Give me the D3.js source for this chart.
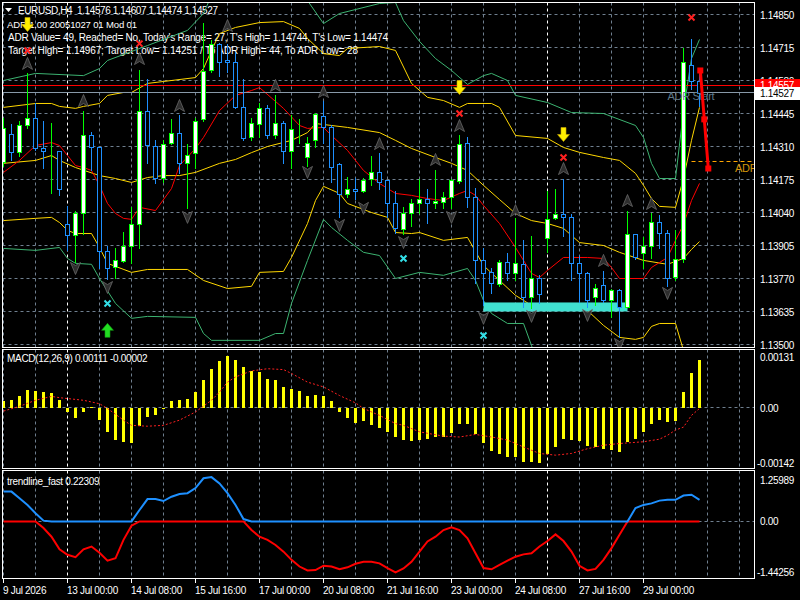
<!DOCTYPE html>
<html>
<head>
<meta charset="utf-8">
<script src="https://cdn.jsdelivr.net/npm/d3@7"></script>
<style>
body { margin: 0; background: #000; }
svg text { font-family: "Liberation Sans", Arial, sans-serif; font-size: 10px; fill: #fff; letter-spacing: -0.3px; }
svg text.hdr { letter-spacing: 0; }
</style>
</head>
<body>
<div id="chart"></div>
<script>
// EURUSD H4 candles, oldest first
var barOpen  = [1.14245,1.14363,1.14286,1.14400,1.14425,1.14302,1.14290,1.14290,1.13995,1.13950,
                1.14036,1.14355,1.14306,1.13881,1.13819,1.13840,1.13905,1.13991,1.14457,1.14314,
                1.14183,1.14326,1.14367,1.14241,1.14282,1.14421,1.14625,1.14731,1.14662,1.14654,
                1.14470,1.14347,1.14404,1.14466,1.14359,1.14408,1.14290,1.14380,1.14269,1.14335,
                1.14433,1.14388,1.14237,1.14114,1.14138,1.14130,1.14179,1.14204,1.14171,1.14077,
                1.13971,1.14036,1.14077,1.14097,1.14077,1.14085,1.14102,1.14167,1.14326,1.14102,
                1.13844,1.13795,1.13746,1.13836,1.13791,1.13828,1.13693,1.13774,1.13934,1.14016,
                1.14032,1.14020,1.13832,1.13791,1.13693,1.13742,1.13680,1.13721,1.13652,1.13954,
                1.13873,1.13905,1.14003,1.13958,1.13778,1.13848,1.14645,1.14576];
var barHigh  = [1.14425,1.14404,1.14416,1.14609,1.14486,1.14416,1.14408,1.14290,1.14065,1.14048,
                1.14457,1.14371,1.14306,1.13905,1.13893,1.13962,1.14061,1.14625,1.14588,1.14335,
                1.14335,1.14421,1.14437,1.14322,1.14425,1.14817,1.14744,1.14735,1.14731,1.14695,
                1.14588,1.14425,1.14486,1.14478,1.14519,1.14416,1.14437,1.14421,1.14347,1.14449,
                1.14498,1.14396,1.14241,1.14187,1.14183,1.14183,1.14273,1.14282,1.14175,1.14130,
                1.14061,1.14097,1.14179,1.14138,1.14212,1.14122,1.14179,1.14355,1.14347,1.14142,
                1.13893,1.13815,1.13844,1.13873,1.14016,1.13926,1.13942,1.13783,1.14130,1.14138,
                1.14179,1.14032,1.13864,1.13795,1.13746,1.13799,1.13729,1.13729,1.14048,1.13954,
                1.13938,1.14036,1.14028,1.13967,1.13967,1.14711,1.14748,1.14607];
var barLow   = [1.14232,1.14253,1.14273,1.14384,1.14294,1.14224,1.14118,1.14110,1.13885,1.13836,
                1.13954,1.14212,1.13811,1.13770,1.13774,1.13836,1.13832,1.13893,1.14241,1.14159,
                1.14163,1.14322,1.14200,1.14057,1.14224,1.14416,1.14613,1.14600,1.14613,1.14466,
                1.14335,1.14335,1.14347,1.14343,1.14343,1.14241,1.14224,1.14326,1.14232,1.14306,
                1.14326,1.14163,1.14020,1.14102,1.14097,1.14122,1.14151,1.14138,1.14020,1.13958,
                1.13954,1.13983,1.14036,1.13999,1.14057,1.14057,1.14057,1.14159,1.14061,1.13750,
                1.13660,1.13709,1.13738,1.13762,1.13762,1.13652,1.13648,1.13668,1.13877,1.14012,
                1.13942,1.13762,1.13672,1.13652,1.13660,1.13672,1.13611,1.13529,1.13652,1.13848,
                1.13811,1.13852,1.13893,1.13738,1.13762,1.13836,1.14547,1.14474];
var barClose = [1.14384,1.14286,1.14400,1.14425,1.14302,1.14290,1.14291,1.14138,1.13950,1.14036,
                1.14359,1.14306,1.13881,1.13815,1.13844,1.13901,1.13991,1.14457,1.14318,1.14183,
                1.14322,1.14367,1.14241,1.14277,1.14416,1.14617,1.14731,1.14654,1.14654,1.14470,
                1.14343,1.14408,1.14466,1.14359,1.14408,1.14290,1.14380,1.14381,1.14326,1.14441,
                1.14388,1.14228,1.14114,1.14138,1.14130,1.14175,1.14204,1.14163,1.14077,1.13975,
                1.14036,1.14077,1.14097,1.14077,1.14089,1.14102,1.14171,1.14322,1.14102,1.13844,
                1.13791,1.13750,1.13836,1.13791,1.13832,1.13693,1.13774,1.13705,1.14012,1.14032,
                1.14020,1.13832,1.13791,1.13680,1.13733,1.13680,1.13721,1.13652,1.13954,1.13856,
                1.13905,1.14003,1.13958,1.13774,1.13848,1.14654,1.14576,1.14527];

// envelope lines on the price chart, as [bar, price]
var outerUpper = [[0,1.14580],[4,1.14609],[10,1.14600],[12,1.14629],[13,1.14662],[18,1.14723],[23,1.14785],[25,1.14854],[26,1.14928],[30,1.14990],[37,1.14990],[38,1.14907],[40,1.14813],[42,1.14854],[47,1.14895],[49,1.14899],[50,1.14825],[52,1.14740],[54,1.14670],[56,1.14621],[58,1.14564],[60,1.14600],[61,1.14609],[63,1.14580],[64,1.14519],[68,1.14490],[71,1.14449],[75,1.14445],[79,1.14396],[80,1.14347],[81,1.14241],[82,1.14179],[84,1.14179],[85,1.14457],[86,1.14670],[87,1.14748]];
var innerUpper = [[0,1.14470],[4,1.14486],[6,1.14486],[7,1.14474],[9,1.14466],[10,1.14474],[12,1.14486],[13,1.14519],[15,1.14531],[16,1.14531],[18,1.14568],[20,1.14576],[24,1.14592],[25,1.14629],[26,1.14703],[27,1.14772],[29,1.14797],[32,1.14817],[35,1.14821],[37,1.14793],[38,1.14752],[40,1.14690],[42,1.14682],[43,1.14711],[47,1.14719],[49,1.14703],[51,1.14568],[53,1.14511],[55,1.14498],[57,1.14470],[58,1.14486],[61,1.14486],[62,1.14470],[64,1.14355],[68,1.14343],[70,1.14306],[72,1.14286],[75,1.14265],[77,1.14253],[79,1.14200],[80,1.14151],[81,1.14097],[82,1.14065],[84,1.14061],[85,1.14179],[86,1.14335],[87,1.14470]];
var fastMid    = [[0,1.14204],[2,1.14253],[4,1.14314],[6,1.14326],[7,1.14314],[8,1.14273],[9,1.14232],[10,1.14224],[11,1.14212],[12,1.14151],[13,1.14077],[14,1.14036],[15,1.14016],[16,1.14012],[17,1.14061],[19,1.14048],[21,1.14138],[22,1.14232],[24,1.14302],[25,1.14347],[27,1.14457],[29,1.14519],[31,1.14539],[32,1.14551],[35,1.14466],[37,1.14396],[38,1.14384],[40,1.14388],[41,1.14355],[43,1.14294],[45,1.14212],[47,1.14159],[49,1.14118],[51,1.14110],[53,1.14097],[55,1.14089],[57,1.14118],[58,1.14130],[59,1.14110],[60,1.14069],[62,1.13995],[64,1.13897],[66,1.13791],[67,1.13774],[68,1.13803],[70,1.13856],[73,1.13856],[75,1.13852],[76,1.13815],[77,1.13770],[80,1.13770],[81,1.13815],[83,1.13856],[84,1.13926],[85,1.13991],[86,1.14089],[87,1.14159]];
var slowMid    = [[0,1.14241],[4,1.14253],[6,1.14273],[7,1.14253],[9,1.14224],[12,1.14191],[14,1.14179],[16,1.14163],[18,1.14183],[20,1.14191],[22,1.14191],[24,1.14204],[27,1.14241],[29,1.14257],[31,1.14285],[33,1.14310],[36,1.14335],[38,1.14367],[39,1.14404],[43,1.14388],[47,1.14367],[49,1.14335],[51,1.14302],[54,1.14265],[56,1.14241],[58,1.14212],[60,1.14151],[62,1.14093],[64,1.14036],[66,1.14007],[68,1.13995],[70,1.13975],[72,1.13917],[75,1.13905],[77,1.13877],[80,1.13844],[83,1.13828],[85,1.13852],[86,1.13889],[87,1.13921]];
var innerLower = [[0,1.14007],[4,1.14016],[6,1.14020],[7,1.13999],[8,1.13967],[9,1.13954],[11,1.13954],[12,1.13897],[13,1.13832],[16,1.13795],[18,1.13807],[23,1.13807],[25,1.13762],[28,1.13729],[31,1.13738],[32,1.13795],[35,1.13799],[36,1.13856],[38,1.13995],[39,1.14089],[40,1.14147],[42,1.14118],[43,1.14077],[46,1.14040],[48,1.14020],[49,1.13958],[51,1.13954],[52,1.13958],[55,1.13926],[58,1.13938],[60,1.13823],[62,1.13762],[64,1.13701],[66,1.13660],[68,1.13639],[71,1.13652],[73,1.13639],[75,1.13578],[77,1.13529],[79,1.13521],[80,1.13529],[81,1.13574],[82,1.13586],[84,1.13586],[85,1.13476],[86,1.13380],[87,1.13300]];
var outerLower = [[0,1.13893],[4,1.13885],[7,1.13897],[8,1.13852],[9,1.13832],[11,1.13828],[12,1.13770],[14,1.13668],[16,1.13607],[18,1.13615],[24,1.13611],[25,1.13545],[26,1.13517],[32,1.13517],[34,1.13545],[35,1.13545],[36,1.13668],[38,1.13844],[40,1.14012],[41,1.13979],[43,1.13926],[45,1.13877],[47,1.13864],[49,1.13770],[52,1.13795],[55,1.13783],[58,1.13811],[59,1.13762],[60,1.13680],[61,1.13627],[63,1.13586],[65,1.13586],[66,1.13496],[67,1.13400],[70,1.13300],[87,1.13250]];

// fractal chevrons
var fractalUpBars    = [3, 10, 17, 22, 28, 34, 40, 47, 54, 57, 64, 70, 75, 78, 81];
var fractalUpPrice   = [1.14650,1.14498,1.14670,1.14478,1.14805,1.14560,1.14535,1.14322,1.14257,1.14396,1.14048,1.14220,1.13844,1.14089,1.14077];
var fractalDownBars  = [9, 13, 23, 38, 42, 45, 50, 56, 60, 66, 73, 77, 83];
var fractalDownPrice = [1.13811,1.13733,1.14020,1.14204,1.13987,1.14057,1.13917,1.14020,1.13607,1.13615,1.13619,1.13500,1.13709];

// signal markers
var sellArrowBars = [3, 57, 70];
var sellArrowPrice = [1.14809, 1.14551, 1.14359];
var buyArrowBars = [13];
var buyArrowPrice = [1.13558];
var redCrossBars = [3, 17, 57, 70, 86];
var redCrossPrice = [1.14703, 1.14731, 1.14445, 1.14265, 1.14838];
var cyanCrossBars = [13, 50, 60];
var cyanCrossPrice = [1.13668, 1.13852, 1.13537];
var zoneBars = [60, 78];
var zonePrice = [1.13672, 1.13635];

// ADR objects
var askPrice = 1.14557;
var bidPrice = 1.14527;
var adrTargetLow = 1.14251;
var adrStartBar = 83;
var projBars = [87.1, 87.6, 88.1];
var projPrice = [1.14621, 1.14421, 1.14220];

// header lines
var headerLines = ["EURUSD,H4\u00a0\u00a01.14576 1.14607 1.14474 1.14527",
                   "ADR 1.00 20051027 01 Mod 01",
                   "ADR Value= 49, Reached= No, Today's Range= 27, T's High= 1.14744, T's Low= 1.14474",
                   "Target High= 1.14967; Target Low= 1.14251 / To ADR High= 44, To ADR Low= 28"];

// MACD(12,26,9)
var macdHist = [0.00015,0.00017,0.00028,0.00040,0.00038,0.00035,0.00033,0.00017,-0.00010,-0.00024,
                -0.00010,0.00001,-0.00029,-0.00056,-0.00074,-0.00079,-0.00082,-0.00043,-0.00021,-0.00018,
                -0.00001,0.00015,0.00017,0.00021,0.00035,0.00065,0.00090,0.00107,0.00119,0.00111,
                0.00095,0.00085,0.00082,0.00067,0.00063,0.00047,0.00042,0.00038,0.00028,0.00030,
                0.00028,0.00015,-0.00010,-0.00024,-0.00035,-0.00032,-0.00041,-0.00047,-0.00056,-0.00069,
                -0.00075,-0.00077,-0.00074,-0.00072,-0.00068,-0.00068,-0.00058,-0.00039,-0.00039,-0.00060,
                -0.00082,-0.00100,-0.00108,-0.00114,-0.00114,-0.00125,-0.00125,-0.00129,-0.00108,-0.00091,
                -0.00073,-0.00075,-0.00077,-0.00089,-0.00091,-0.00096,-0.00099,-0.00102,-0.00079,-0.00072,
                -0.00056,-0.00037,-0.00029,-0.00033,-0.00032,0.00035,0.00081,0.00111];
var macdSignal = [[0,-0.00008],[2,0.00003],[4,0.00017],[6,0.00026],[7,0.00023],[10,0.00017],[12,0.00009],[13,-0.00002],[15,-0.00029],[16,-0.00041],[18,-0.00043],[20,-0.00041],[22,-0.00029],[24,-0.00010],[26,0.00017],[27,0.00036],[28,0.00059],[29,0.00071],[31,0.00085],[33,0.00090],[35,0.00088],[36,0.00079],[38,0.00059],[40,0.00048],[42,0.00028],[44,0.00011],[45,-0.00002],[47,-0.00018],[49,-0.00037],[50,-0.00041],[52,-0.00056],[55,-0.00066],[57,-0.00068],[59,-0.00062],[61,-0.00068],[63,-0.00075],[65,-0.00091],[67,-0.00106],[69,-0.00110],[71,-0.00106],[73,-0.00095],[75,-0.00087],[77,-0.00083],[80,-0.00079],[82,-0.00073],[83,-0.00064],[84,-0.00052],[85,-0.00045],[86,-0.00018],[87,-0.00002]];

// trendline_fast: up part (blue) and down part (red)
var trendUp   = [0.76,0.76,0.59,0.42,0.21,0.02,0,0,0,0, 0,0,0,0,0,0,0,0.29,0.57,0.57,
                 0.52,0.63,0.70,0.72,0.85,1.10,1.13,0.97,0.72,0.42, 0.06,0,0,0,0,0,0,0,0,0,
                 0,0,0,0,0,0,0,0,0,0, 0,0,0,0,0,0,0,0,0,0,
                 0,0,0,0,0,0,0,0,0,0, 0,0,0,0,0,0,0,0,0,0.34,
                 0.42,0.46,0.53,0.55,0.55,0.66,0.68,0.55];
var trendDown = [0,0,0,0,0,-0.17,-0.39,-0.71,-0.85,-0.91, -0.71,-0.64,-0.80,-1.00,-0.94,-0.47,-0.11,0,0,0,
                 0,0,0,0,0,0,0,0,0,0, 0,-0.22,-0.39,-0.47,-0.60,-0.77,-0.98,-1.15,-1.25,-1.24,
                 -1.13,-1.15,-1.22,-1.17,-1.08,-1.03,-1.03,-1.07,-1.19,-1.30, -1.20,-1.03,-0.77,-0.51,-0.39,-0.22,-0.15,-0.22,-0.43,-0.81,
                 -1.19,-1.22,-1.11,-1.00,-0.90,-0.84,-0.81,-0.64,-0.50,-0.33, -0.50,-0.77,-1.13,-1.25,-1.21,-0.98,-0.68,-0.34,0,0,
                 0,0,0,0,0,0,0,0];

// axes
var priceTicks = [1.14850,1.14715,1.14580,1.14445,1.14310,1.14175,1.14040,1.13905,1.13770,1.13635,1.13500];
var timeLabels = ["9 Jul 2026","13 Jul 00:00","14 Jul 08:00","15 Jul 16:00","17 Jul 00:00","20 Jul 08:00","21 Jul 16:00","23 Jul 00:00","24 Jul 08:00","27 Jul 16:00","29 Jul 00:00"];
var timeLabelBars = [0, 8, 16, 24, 32, 40, 48, 56, 64, 72, 80];
var weekStartBars = [8, 38, 68];
var macdTicks = [0.00131, 0, -0.00142];
var macdTickText = ["0.00131", "0.00", "-0.00142"];
var trendTicks = [1.25989, 0, -1.44256];
var trendTickText = ["1.25989", "0.00", "-1.44256"];

//////////////////////
// scales and layout
//////////////////////
var plotL = 2.5, plotR = 754.5;
var panels = [{top: 2.5, bottom: 347.5}, {top: 349.5, bottom: 468.5}, {top: 470.5, bottom: 578.5}];

var xBar = d3.scaleLinear().domain([0, 87]).range([3.5, 699.5]);
var yPrice = d3.scaleLinear().domain([1.13500, 1.14850]).range([344.5, 14.5]);
var yMacd = d3.scaleLinear().domain([-0.00142, 0.00131]).range([469, 351]);
var yTrend = d3.scaleLinear().domain([-1.44256, 1.25989]).range([578, 472]);

var svg = d3.select("#chart").append("svg").attr("width", 800).attr("height", 600)
    .style("background", "#000").style("display", "block");

var defs = svg.append("defs");
panels.forEach(function(p, i) {
    defs.append("clipPath").attr("id", "clip" + i).append("rect")
        .attr("x", plotL + 0.5).attr("y", p.top + 0.5)
        .attr("width", plotR - plotL - 1).attr("height", p.bottom - p.top - 1);
});

var gridColor = "#6f7f8f";
var gridBars = d3.range(0, 93, 4);

// vertical grid in every panel, week separators brighter
panels.forEach(function(p) {
    svg.append("g").selectAll("line").data(gridBars).enter().append("line")
        .attr("x1", function(d) { return 3.5 + 8 * d; }).attr("x2", function(d) { return 3.5 + 8 * d; })
        .attr("y1", p.top).attr("y2", p.bottom)
        .attr("stroke", function(d) { return weekStartBars.indexOf(d) >= 0 ? "#ffffff" : gridColor; })
        .attr("stroke-dasharray", "3,3");
});
// horizontal grid
svg.append("g").selectAll("line").data(priceTicks).enter().append("line")
    .attr("x1", plotL).attr("x2", plotR)
    .attr("y1", function(d) { return Math.round(yPrice(d) - 0.5) + 0.5; })
    .attr("y2", function(d) { return Math.round(yPrice(d) - 0.5) + 0.5; })
    .attr("stroke", gridColor).attr("stroke-dasharray", "3,3");
[[yMacd, 0], [yTrend, 0]].forEach(function(z) {
    var y = Math.round(z[0](z[1]) - 0.5) + 0.5;
    svg.append("line").attr("x1", plotL).attr("x2", plotR).attr("y1", y).attr("y2", y)
        .attr("stroke", gridColor).attr("stroke-dasharray", "3,3");
});

//////////////////////
// header texts (drawn under the chart objects, as in the terminal)
//////////////////////
var hdrX = [18, 7, 8, 8], hdrY = [14, 28, 41, 54], hdrW = [200, 130, 380, 350], hdrSize = [10, 9.5, 10, 10];
svg.append("path").attr("d", "M5,8 L12,8 L8.5,12 Z").attr("fill", "#fff");
headerLines.forEach(function(t, i) {
    svg.append("text").attr("class", "hdr").attr("x", hdrX[i]).attr("y", hdrY[i])
        .style("font-size", hdrSize[i] + "px")
        .attr("textLength", hdrW[i]).attr("lengthAdjust", "spacing").text(t);
});

//////////////////////
// price panel
//////////////////////
var main = svg.append("g").attr("clip-path", "url(#clip0)");

var priceLine = d3.line().x(function(d) { return xBar(d[0]); }).y(function(d) { return yPrice(d[1]); });
main.append("path").datum(outerUpper).attr("d", priceLine).attr("fill", "none").attr("stroke", "#3cb371");
main.append("path").datum(outerLower).attr("d", priceLine).attr("fill", "none").attr("stroke", "#3cb371");
main.append("path").datum(innerUpper).attr("d", priceLine).attr("fill", "none").attr("stroke", "#ffd700");
main.append("path").datum(innerLower).attr("d", priceLine).attr("fill", "none").attr("stroke", "#ffd700");
main.append("path").datum(slowMid).attr("d", priceLine).attr("fill", "none").attr("stroke", "#ffd700");
main.append("path").datum(fastMid).attr("d", priceLine).attr("fill", "none").attr("stroke", "#ff0000");

// support zone
main.append("rect").attr("x", xBar(zoneBars[0])).attr("y", yPrice(zonePrice[0]))
    .attr("width", xBar(zoneBars[1]) - xBar(zoneBars[0])).attr("height", yPrice(zonePrice[1]) - yPrice(zonePrice[0]))
    .attr("fill", "#40e0d0");

// ask / bid lines
main.append("line").attr("x1", plotL).attr("x2", plotR)
    .attr("y1", Math.round(yPrice(askPrice)) - 0.5).attr("y2", Math.round(yPrice(askPrice)) - 0.5).attr("stroke", "#ff0000");
main.append("line").attr("x1", plotL).attr("x2", plotR)
    .attr("y1", Math.round(yPrice(bidPrice)) - 0.5).attr("y2", Math.round(yPrice(bidPrice)) - 0.5).attr("stroke", "#8899a8");

// candles
var candles = main.append("g");
for (let i = 0; i < barOpen.length; i++) {
    var x = xBar(i);
    var up = barClose[i] >= barOpen[i];
    var col = up ? "#00ff00" : "#1e90ff";
    candles.append("line").attr("x1", x).attr("x2", x)
        .attr("y1", Math.round(yPrice(barHigh[i]))).attr("y2", Math.round(yPrice(barLow[i])) + 1)
        .attr("stroke", col);
    var yT = Math.round(yPrice(Math.max(barOpen[i], barClose[i])));
    var yB = Math.round(yPrice(Math.min(barOpen[i], barClose[i])));
    candles.append("rect").attr("x", x - 2).attr("y", yT + 0.5).attr("width", 4).attr("height", Math.max(yB - yT, 0))
        .attr("fill", up ? "#ffffff" : "#000000").attr("stroke", col);
}

// fractal chevrons
var chevUp = "M0,-6 L5,6 L0,3 L-5,6 Z";
var chevDown = "M0,6 L5,-6 L0,-3 L-5,-6 Z";
main.append("g").selectAll("path").data(fractalUpBars).enter().append("path")
    .attr("d", chevUp).attr("fill", "#2e2e2e").attr("stroke", "#6a6a6a").attr("stroke-width", 0.8)
    .attr("transform", function(d, i) { return "translate(" + xBar(d) + "," + yPrice(fractalUpPrice[i]) + ")"; });
main.append("g").selectAll("path").data(fractalDownBars).enter().append("path")
    .attr("d", chevDown).attr("fill", "#2e2e2e").attr("stroke", "#6a6a6a").attr("stroke-width", 0.8)
    .attr("transform", function(d, i) { return "translate(" + xBar(d) + "," + yPrice(fractalDownPrice[i]) + ")"; });

// signal arrows
var arrowDown = "M-2.5,-7 L2.5,-7 L2.5,0 L6,0 L0,7 L-6,0 L-2.5,0 Z";
var arrowUp = "M-2.5,7 L2.5,7 L2.5,0 L6,0 L0,-7 L-6,0 L-2.5,0 Z";
main.append("g").selectAll("path").data(sellArrowBars).enter().append("path")
    .attr("d", arrowDown).attr("fill", "#ffee00").attr("stroke", "#c8a800").attr("stroke-width", 0.6)
    .attr("transform", function(d, i) { return "translate(" + xBar(d) + "," + yPrice(sellArrowPrice[i]) + ")"; });
main.append("g").selectAll("path").data(buyArrowBars).enter().append("path")
    .attr("d", arrowUp).attr("fill", "#22dd22").attr("stroke", "#119911").attr("stroke-width", 0.6)
    .attr("transform", function(d, i) { return "translate(" + xBar(d) + "," + yPrice(buyArrowPrice[i]) + ")"; });

function drawCross(bars, prices, color) {
    main.append("g").selectAll("path").data(bars).enter().append("path")
        .attr("d", "M-3,-3 L3,3 M3,-3 L-3,3").attr("stroke", color).attr("stroke-width", 2).attr("fill", "none")
        .attr("transform", function(d, i) { return "translate(" + xBar(d) + "," + yPrice(prices[i]) + ")"; });
}
drawCross(redCrossBars, redCrossPrice, "#ff2020");
drawCross(cyanCrossBars, cyanCrossPrice, "#33e0e8");

// ADR target low line and labels
main.append("line").attr("x1", xBar(86)).attr("x2", plotR)
    .attr("y1", Math.round(yPrice(adrTargetLow)) + 0.5).attr("y2", Math.round(yPrice(adrTargetLow)) + 0.5)
    .attr("stroke", "#ffa500").attr("stroke-dasharray", "4,3");
main.append("text").attr("x", 735).attr("y", Math.round(yPrice(adrTargetLow)) + 11)
    .style("font-size", "11px").style("fill", "#d4960a").text("ADR Low");
main.append("text").attr("x", xBar(adrStartBar)).attr("y", Math.round(yPrice(bidPrice)) + 7)
    .style("font-size", "11px").style("fill", "#5d7889").text("ADR Start");

// projection
var proj = projBars.map(function(b, i) { return [b, projPrice[i]]; });
main.append("path").datum(proj).attr("d", priceLine).attr("fill", "none").attr("stroke", "#ff0000").attr("stroke-width", 3);
main.append("g").selectAll("rect").data(proj).enter().append("rect")
    .attr("x", function(d) { return xBar(d[0]) - 3; }).attr("y", function(d) { return yPrice(d[1]) - 3; })
    .attr("width", 6).attr("height", 6).attr("fill", "#ff0000");

//////////////////////
// MACD panel
//////////////////////
var macd = svg.append("g").attr("clip-path", "url(#clip1)");
var zeroM = Math.round(yMacd(0));
macd.selectAll("rect").data(macdHist).enter().append("rect")
    .attr("x", function(d, i) { return xBar(i) - 1.5; })
    .attr("y", function(d) { return d >= 0 ? Math.round(yMacd(d)) : zeroM; })
    .attr("width", 3)
    .attr("height", function(d) { return Math.max(1, Math.abs(Math.round(yMacd(d)) - zeroM)); })
    .attr("fill", "#ffff00");
var sigLine = d3.line().x(function(d) { return xBar(d[0]); }).y(function(d) { return yMacd(d[1]); });
macd.append("path").datum(macdSignal).attr("d", sigLine).attr("fill", "none")
    .attr("stroke", "#ff2020").attr("stroke-dasharray", "2,2");
svg.append("text").attr("x", 7).attr("y", 362).text("MACD(12,26,9) 0.00111 -0.00002");

//////////////////////
// trendline panel
//////////////////////
var trend = svg.append("g").attr("clip-path", "url(#clip2)");
var trendLine = d3.line().x(function(d, i) { return xBar(i); }).y(function(d) { return yTrend(d); });
trend.append("path").datum(trendDown).attr("d", trendLine).attr("fill", "none").attr("stroke", "#ff0000").attr("stroke-width", 2);
trend.append("path").datum(trendUp).attr("d", trendLine).attr("fill", "none").attr("stroke", "#1e90ff").attr("stroke-width", 2);
svg.append("text").attr("x", 7).attr("y", 485).text("trendline_fast 0.22309");

//////////////////////
// frames and axes
//////////////////////
panels.forEach(function(p) {
    svg.append("rect").attr("x", plotL).attr("y", p.top).attr("width", plotR - plotL).attr("height", p.bottom - p.top)
        .attr("fill", "none").attr("stroke", "#ffffff");
});

svg.append("g").selectAll("text").data(priceTicks).enter().append("text")
    .attr("x", 760).attr("y", function(d) { return yPrice(d) + 4; })
    .text(function(d) { return d.toFixed(5); });

// current price boxes (the bid box sits over the lower half of the ask box)
var askY = Math.round(yPrice(askPrice));
svg.append("rect").attr("x", 755).attr("y", askY - 7).attr("width", 45).attr("height", 13).attr("fill", "#ff0000");
svg.append("text").attr("x", 760).attr("y", askY + 3).text(askPrice.toFixed(5));
var bidY = Math.round(yPrice(bidPrice));
svg.append("rect").attr("x", 755).attr("y", bidY - 6).attr("width", 45).attr("height", 13).attr("fill", "#ffffff");
svg.append("text").attr("x", 760).attr("y", bidY + 4).style("fill", "#000").text(bidPrice.toFixed(5));

svg.append("g").selectAll("text").data(macdTicks).enter().append("text")
    .attr("x", function(d) { return d < 0 ? 757 : 760; })
    .attr("y", function(d, i) { return i == 0 ? yMacd(d) + 10 : (i == 2 ? yMacd(d) - 2 : yMacd(d) + 4); })
    .text(function(d, i) { return macdTickText[i]; });
svg.append("g").selectAll("text").data(trendTicks).enter().append("text")
    .attr("x", function(d) { return d < 0 ? 757 : 760; })
    .attr("y", function(d, i) { return i == 0 ? yTrend(d) + 12 : (i == 2 ? yTrend(d) - 2 : yTrend(d) + 4); })
    .text(function(d, i) { return trendTickText[i]; });

// time axis
svg.append("g").selectAll("line").data(timeLabelBars).enter().append("line")
    .attr("x1", function(d) { return xBar(d); }).attr("x2", function(d) { return xBar(d); })
    .attr("y1", 579).attr("y2", 583).attr("stroke", "#ffffff");
svg.append("g").selectAll("text").data(timeLabels).enter().append("text")
    .attr("x", function(d, i) { return xBar(timeLabelBars[i]) - 0.5; }).attr("y", 594)
    .text(function(d) { return d; });
</script>
</body>
</html>
